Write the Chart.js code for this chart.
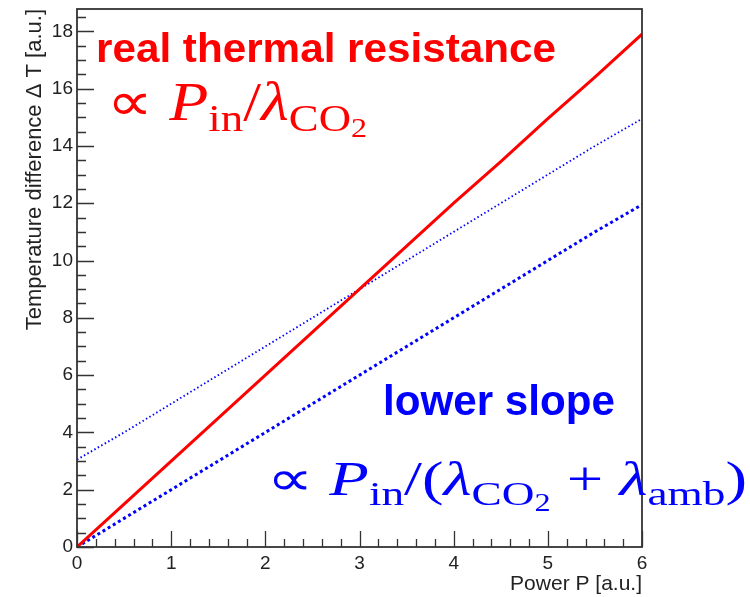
<!DOCTYPE html>
<html lang="en">
<head>
  <meta charset="UTF-8" />
  <title>Thermal resistance</title>
  <script src="https://cdn.jsdelivr.net/npm/chart.js"></script>
  <style>
    html, body { margin: 0; padding: 0; background: #fff; }
    #wrap { width: 750px; height: 597px; }
  </style>
</head>
<body>
  <div id="wrap"><canvas id="chart"></canvas></div>

  <script>
    // data
    const power = [0, 0.5, 1, 1.5, 2, 2.5, 3, 3.5, 4, 4.5, 5, 5.5, 6];
    const realResistance = [0, 1.5, 3.0, 4.5, 6.0, 7.5, 9.0, 10.5, 12.0, 13.45, 14.95, 16.4, 17.9];
    const upperSlope = [3.05, 4.0, 5.0, 6.0, 7.0, 8.0, 9.0, 10.0, 11.0, 12.0, 13.0, 14.0, 14.95];
    const lowerSlope = [0, 1.0, 2.0, 3.0, 4.0, 5.0, 6.0, 7.0, 8.0, 9.0, 10.0, 11.0, 11.95];

    const xTicks = [0, 1, 2, 3, 4, 5, 6];
    const yTicks = [0, 2, 4, 6, 8, 10, 12, 14, 16, 18];

    const toPoints = ys => power.map((x, i) => ({ x: x, y: ys[i] }));

    // ROOT style frame with inward ticks
    const frameTicks = {
      id: "frameTicks",
      afterDatasetsDraw(chart) {
        const { ctx, chartArea: a, scales } = chart;
        const xs = scales.x, ys = scales.y;
        ctx.save();
        ctx.strokeStyle = "#333";
        ctx.lineWidth = 1.8;
        ctx.strokeRect(a.left, a.top, a.right - a.left, a.bottom - a.top);
        ctx.lineWidth = 1.3;
        ctx.beginPath();
        for (let v = 0; v <= ys.max + 1e-9; v += 0.5) {
          const py = Math.round(ys.getPixelForValue(v)) + 0.5;
          const major = Math.abs(v / 2 - Math.round(v / 2)) < 1e-6;
          ctx.moveTo(a.left, py);
          ctx.lineTo(a.left + (major ? 17 : 9), py);
        }
        for (let k = 0; k <= 30; k++) {
          const v = k * 0.2;
          const px = Math.round(xs.getPixelForValue(v)) + 0.5;
          const major = k % 5 === 0;
          ctx.moveTo(px, a.bottom);
          ctx.lineTo(px, a.bottom - (major ? 16 : 8));
        }
        ctx.stroke();
        ctx.restore();
      }
    };

    // draw a piece of LaTeX-like text, stretched to a given width
    function drawMath(ctx, parts, x, base, size, color, width) {
      const sizes = [size, size * 0.7, size * 0.5];
      const shift = [0, size * 0.2, size * 0.32];
      const fontOf = p => (p[1] === "i" ? "italic " : "") + sizes[p[2]] + 'px "Liberation Serif", serif';
      let total = 0;
      parts.forEach(p => { ctx.font = fontOf(p); total += ctx.measureText(p[0]).width; });
      ctx.save();
      ctx.translate(x, base);
      ctx.scale(width / total, 1);
      ctx.fillStyle = color;
      ctx.textBaseline = "alphabetic";
      let cx = 0;
      parts.forEach(p => {
        ctx.font = fontOf(p);
        ctx.fillText(p[0], cx, shift[p[2]]);
        cx += ctx.measureText(p[0]).width;
      });
      ctx.restore();
    }

    function drawFit(ctx, text, x, base, font, color, width) {
      ctx.save();
      ctx.font = font;
      const w = ctx.measureText(text).width;
      ctx.translate(x, base);
      ctx.scale(width / w, 1);
      ctx.fillStyle = color;
      ctx.textBaseline = "alphabetic";
      ctx.fillText(text, 0, 0);
      ctx.restore();
    }

    const labels = {
      id: "labels",
      afterDraw(chart) {
        const ctx = chart.ctx;
        drawFit(ctx, "real thermal resistance", 96, 62, 'bold 40px "Liberation Sans", Arial', "#ff0000", 460);
        drawMath(ctx, [["\u221D ", "n", 0], ["P", "i", 0], ["in", "n", 1], ["/", "n", 0], ["\u03BB", "i", 0], ["CO", "n", 1], ["2", "n", 2]],
          107, 120, 54, "#ff0000", 260);
        drawFit(ctx, "lower slope", 383, 415, 'bold 43px "Liberation Sans", Arial', "#0000ff", 232);
        drawMath(ctx, [["\u221D ", "n", 0], ["P", "i", 0], ["in", "n", 1], ["/(", "n", 0], ["\u03BB", "i", 0], ["CO", "n", 1], ["2", "n", 2],
          [" + ", "n", 0], ["\u03BB", "i", 0], ["amb", "n", 1], [")", "n", 0]],
          267, 495, 49, "#0000ff", 480);
      }
    };

    new Chart(document.getElementById("chart"), {
      type: "line",
      data: {
        datasets: [
          {
            label: "real thermal resistance",
            data: toPoints(realResistance),
            borderColor: "#ff0000",
            borderWidth: 3,
            pointRadius: 0,
            fill: false
          },
          {
            label: "upper",
            data: toPoints(upperSlope),
            borderColor: "#0000ff",
            borderWidth: 1.8,
            borderDash: [1.5, 2.5],
            pointRadius: 0,
            fill: false
          },
          {
            label: "lower slope",
            data: toPoints(lowerSlope),
            borderColor: "#0000ff",
            borderWidth: 3,
            borderDash: [3, 3],
            pointRadius: 0,
            fill: false
          }
        ]
      },
      options: {
        responsive: true,
        maintainAspectRatio: false,
        animation: false,
        layout: { padding: { left: 22, right: 108, top: 9, bottom: 0 } },
        plugins: { legend: { display: false }, tooltip: { enabled: false } },
        scales: {
          x: {
            type: "linear",
            min: 0,
            max: 6,
            afterFit: s => { s.height = 50; s.paddingLeft = 0; s.paddingRight = 0; },
            afterBuildTicks: s => { s.ticks = xTicks.map(v => ({ value: v })); },
            grid: { display: false, drawTicks: false },
            border: { display: false },
            ticks: { padding: 5, color: "#222", font: { family: '"Liberation Sans", Arial', size: 19 } },
            title: {
              display: true,
              text: "Power P [a.u.]",
              align: "end",
              color: "#222",
              padding: { top: 0, bottom: 0 },
              font: { family: '"Liberation Sans", Arial', size: 21 }
            }
          },
          y: {
            min: 0,
            max: 18.78,
            afterFit: s => { s.width = 55; s.paddingTop = 0; s.paddingBottom = 0; },
            afterBuildTicks: s => { s.ticks = yTicks.map(v => ({ value: v })); },
            grid: { display: false, drawTicks: false },
            border: { display: false },
            ticks: { padding: 4, color: "#222", font: { family: '"Liberation Sans", Arial', size: 19 } },
            title: {
              display: true,
              text: "Temperature difference \u0394 T [a.u.]",
              align: "end",
              color: "#222",
              padding: 0,
              font: { family: '"Liberation Sans", Arial', size: 22 }
            }
          }
        }
      },
      plugins: [frameTicks, labels]
    });
  </script>
</body>
</html>
